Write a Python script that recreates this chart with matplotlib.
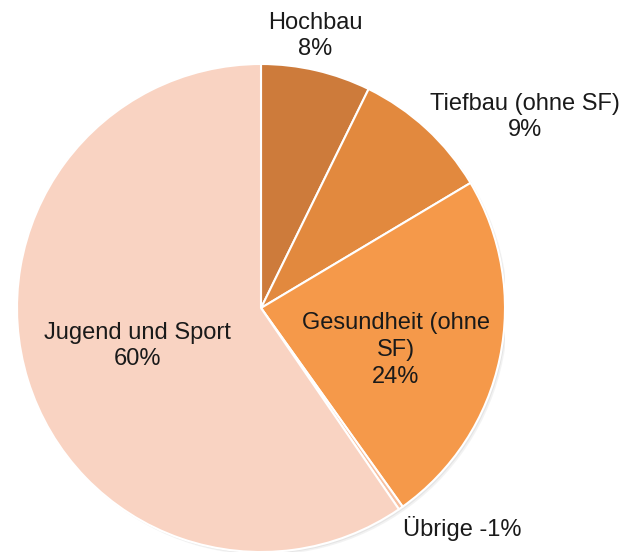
import matplotlib.pyplot as plt
from matplotlib.patches import Circle

categories = ['Hochbau', 'Tiefbau (ohne SF)', 'Gesundheit (ohne\nSF)', 'Übrige', 'Jugend und Sport']
values = [7.3, 9.2, 23.8, -0.3, 59.8]
pct_labels = ['8%', '9%', '24%', '-1%', '60%']
colors = ['#CD7B3B', '#E2893E', '#F5994A', '#F7C0A0', '#F9D3C2']

plt.rcParams['font.family'] = ['Liberation Sans', 'DejaVu Sans']

fig = plt.figure(figsize=(6.19, 5.54), dpi=100)
r_px = 244
ax = fig.add_axes([(261 - r_px) / 619, (246 - r_px) / 554, 2 * r_px / 619, 2 * r_px / 554])

# soft shadow behind pie
for off, a in [(0.012, 0.10), (0.007, 0.12)]:
    ax.add_patch(Circle((off, -off), 1.0, color='#888888', alpha=a, lw=0, zorder=0))

ax.pie([abs(v) for v in values], colors=colors, startangle=90, counterclock=False,
       radius=1.0, wedgeprops=dict(edgecolor='white', linewidth=1.5))

# label positions (in radius units)
pos = [(0.221, 1.115), (1.082, 0.783), (0.553, -0.172), (0.824, -0.905), (-0.506, -0.156)]
for cat, pl, (x, y) in zip(categories, pct_labels, pos):
    if cat == 'Übrige':
        txt = cat + ' ' + pl
    else:
        txt = cat + '\n' + pl
    ax.text(x, y, txt, ha='center', va='center', fontsize=17,
            color='#1a1a1a', linespacing=1.28, clip_on=False)

ax.set_xlim(-1, 1)
ax.set_ylim(-1, 1)
ax.set_aspect('equal')
ax.axis('off')

fig.savefig('out.png', dpi=100)
